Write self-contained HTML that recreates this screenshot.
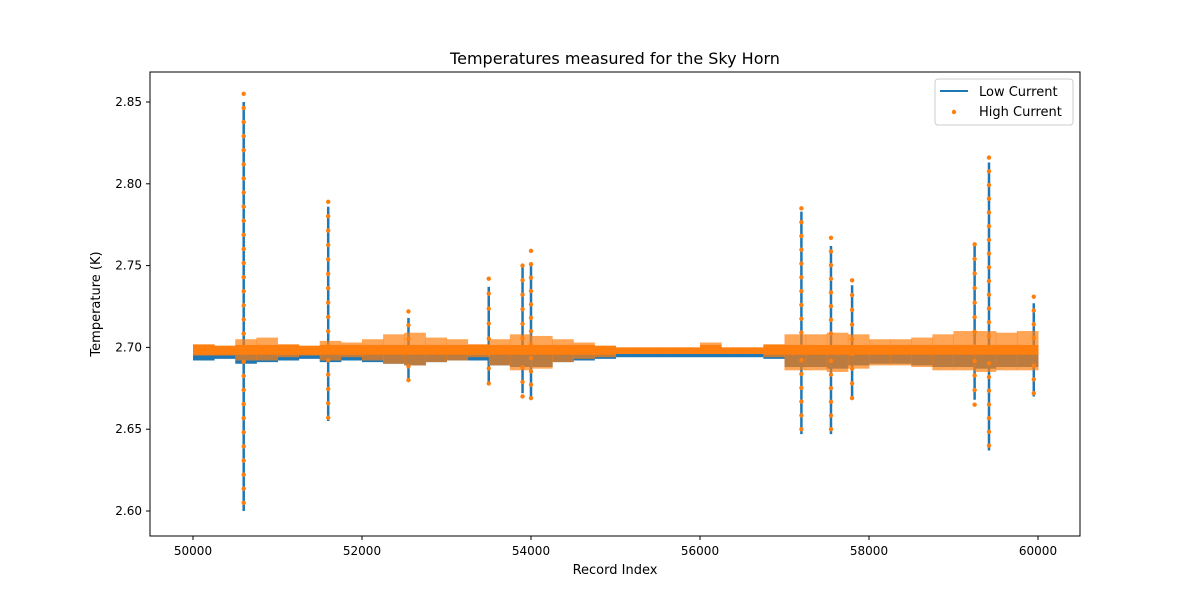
<!DOCTYPE html>
<html><head><meta charset="utf-8"><style>
body{margin:0;background:#fff;font-family:"DejaVu Sans","Liberation Sans",sans-serif}
svg text{font-family:"DejaVu Sans","Liberation Sans",sans-serif}
</style></head><body>
<svg id="chart" width="1200" height="600" xmlns="http://www.w3.org/2000/svg">
<rect x="0" y="0" width="1200" height="600" fill="#fff"/>
<g id="marks"></g>
<rect x="150" y="72" width="930" height="464" fill="none" stroke="#000" stroke-width="1"/>
<g id="axes"></g>
<text x="615" y="64" text-anchor="middle" font-size="16">Temperatures measured for the Sky Horn</text>
<text x="615" y="574" text-anchor="middle" font-size="13">Record Index</text>
<text x="100" y="304" text-anchor="middle" font-size="13" transform="rotate(-90 100 304)">Temperature (K)</text>
<g>
<rect x="935" y="79" width="138" height="46" rx="3" fill="#fff" stroke="#ccc"/>
<line x1="940" y1="91" x2="968" y2="91" stroke="#1f77b4" stroke-width="2"/>
<text x="979" y="96" font-size="13">Low Current</text>
<circle cx="954" cy="112" r="2.2" fill="#ff7f0e"/>
<text x="979" y="116" font-size="13">High Current</text>
</g>
</svg>
<script>
const binStarts=[50000,50250,50500,50750,51000,51250,51500,51750,52000,52250,52500,52750,53000,53250,53500,53750,54000,54250,54500,54750,55000,55250,55500,55750,56000,56250,56500,56750,57000,57250,57500,57750,58000,58250,58500,58750,59000,59250,59500,59750];
const lowMin=[2.692,2.693,2.690,2.691,2.692,2.693,2.691,2.692,2.691,2.690,2.689,2.691,2.692,2.692,2.689,2.688,2.688,2.691,2.692,2.693,2.694,2.694,2.694,2.694,2.694,2.694,2.694,2.693,2.688,2.688,2.687,2.689,2.690,2.690,2.689,2.688,2.688,2.687,2.688,2.688];
const lowMax=[2.696,2.696,2.697,2.697,2.696,2.696,2.697,2.696,2.697,2.697,2.697,2.697,2.696,2.696,2.697,2.698,2.698,2.697,2.696,2.696,2.696,2.696,2.696,2.696,2.696,2.696,2.696,2.696,2.698,2.698,2.698,2.698,2.697,2.697,2.698,2.698,2.698,2.698,2.698,2.698];
const highMin=[2.695,2.695,2.692,2.692,2.694,2.695,2.692,2.694,2.692,2.690,2.689,2.691,2.692,2.694,2.689,2.686,2.687,2.691,2.693,2.694,2.696,2.696,2.696,2.696,2.696,2.696,2.696,2.694,2.686,2.686,2.685,2.687,2.689,2.689,2.688,2.686,2.686,2.685,2.686,2.686];
const highMax=[2.702,2.701,2.705,2.706,2.702,2.701,2.704,2.703,2.705,2.708,2.709,2.706,2.705,2.702,2.705,2.708,2.707,2.705,2.703,2.701,2.700,2.700,2.700,2.700,2.703,2.700,2.700,2.702,2.708,2.708,2.709,2.708,2.705,2.705,2.706,2.708,2.710,2.710,2.709,2.710];
const spikeX=[50600,51600,52550,53500,53900,54000,57200,57550,57800,59250,59420,59950];
const spikeLowMin=[2.600,2.655,2.680,2.679,2.672,2.670,2.647,2.647,2.668,2.668,2.637,2.670];
const spikeLowMax=[2.850,2.786,2.718,2.737,2.750,2.752,2.783,2.762,2.738,2.762,2.813,2.727];
const spikeHighMin=[2.605,2.657,2.680,2.678,2.670,2.669,2.650,2.650,2.669,2.665,2.640,2.672];
const spikeHighMax=[2.855,2.789,2.722,2.742,2.750,2.759,2.785,2.767,2.741,2.763,2.816,2.731];
const xTicks=[50000,52000,54000,56000,58000,60000];
const yTicks=[2.60,2.65,2.70,2.75,2.80,2.85];
const binW=250;
const NS='http://www.w3.org/2000/svg';
const xS=v=>193+(v-50000)*0.0845;
const yS=v=>511-(v-2.6)*1636;
const marks=document.getElementById('marks'),axes=document.getElementById('axes');
function mk(t,a,p){const e=document.createElementNS(NS,t);for(const k in a)e.setAttribute(k,a[k]);p.appendChild(e);return e;}
binStarts.forEach((b,i)=>{
 const e=mk('rect',{x:xS(b),y:yS(lowMax[i]),width:xS(b+binW)-xS(b)+0.5,height:yS(lowMin[i])-yS(lowMax[i]),fill:'#1f77b4'},marks);
 
 
});
spikeX.forEach((s,i)=>{
 const e=mk('line',{x1:xS(s),x2:xS(s),y1:yS(spikeLowMin[i]),y2:yS(spikeLowMax[i]),stroke:'#1f77b4','stroke-width':2.5},marks);
 
 
});
binStarts.forEach((b,i)=>{
 const x0=xS(b),w=xS(b+binW)-xS(b)+0.5;
 const yTop=yS(highMax[i]),yBot=yS(highMin[i]);
 const coreTop=yS(Math.min(highMax[i],2.7015)),coreBot=yS(Math.max(highMin[i],2.6955));
 const f=mk('rect',{x:x0,y:yTop,width:w,height:yBot-yTop,fill:'#ff7f0e',opacity:0.7},marks);
 
 
 const e=mk('rect',{x:x0,y:coreTop,width:w,height:coreBot-coreTop,fill:'#ff7f0e'},marks);
 
 
});
spikeX.forEach((s,i)=>{
 const y1=yS(spikeHighMax[i]),y2=yS(spikeHighMin[i]);
 const n=Math.max(2,Math.round((y2-y1)/14));
 for(let k=0;k<=n;k++){
  const c=mk('circle',{cx:xS(s),cy:y1+(y2-y1)*k/n,r:2.2,fill:'#ff7f0e'},marks);
  
  
 }
});
xTicks.forEach(t=>{
 const l=mk('line',{x1:xS(t),x2:xS(t),y1:536,y2:540,stroke:'#000'},axes);
 
 
 const tx=mk('text',{x:xS(t),y:555,'text-anchor':'middle','font-size':12},axes);
 tx.textContent=t;
 
 
});
yTicks.forEach(t=>{
 const l=mk('line',{x1:146,x2:150,y1:yS(t),y2:yS(t),stroke:'#000'},axes);
 
 
 const tx=mk('text',{x:142,y:yS(t)+4,'text-anchor':'end','font-size':12},axes);
 tx.textContent=t.toFixed(2);
 
 
});
</script>
</body></html>
